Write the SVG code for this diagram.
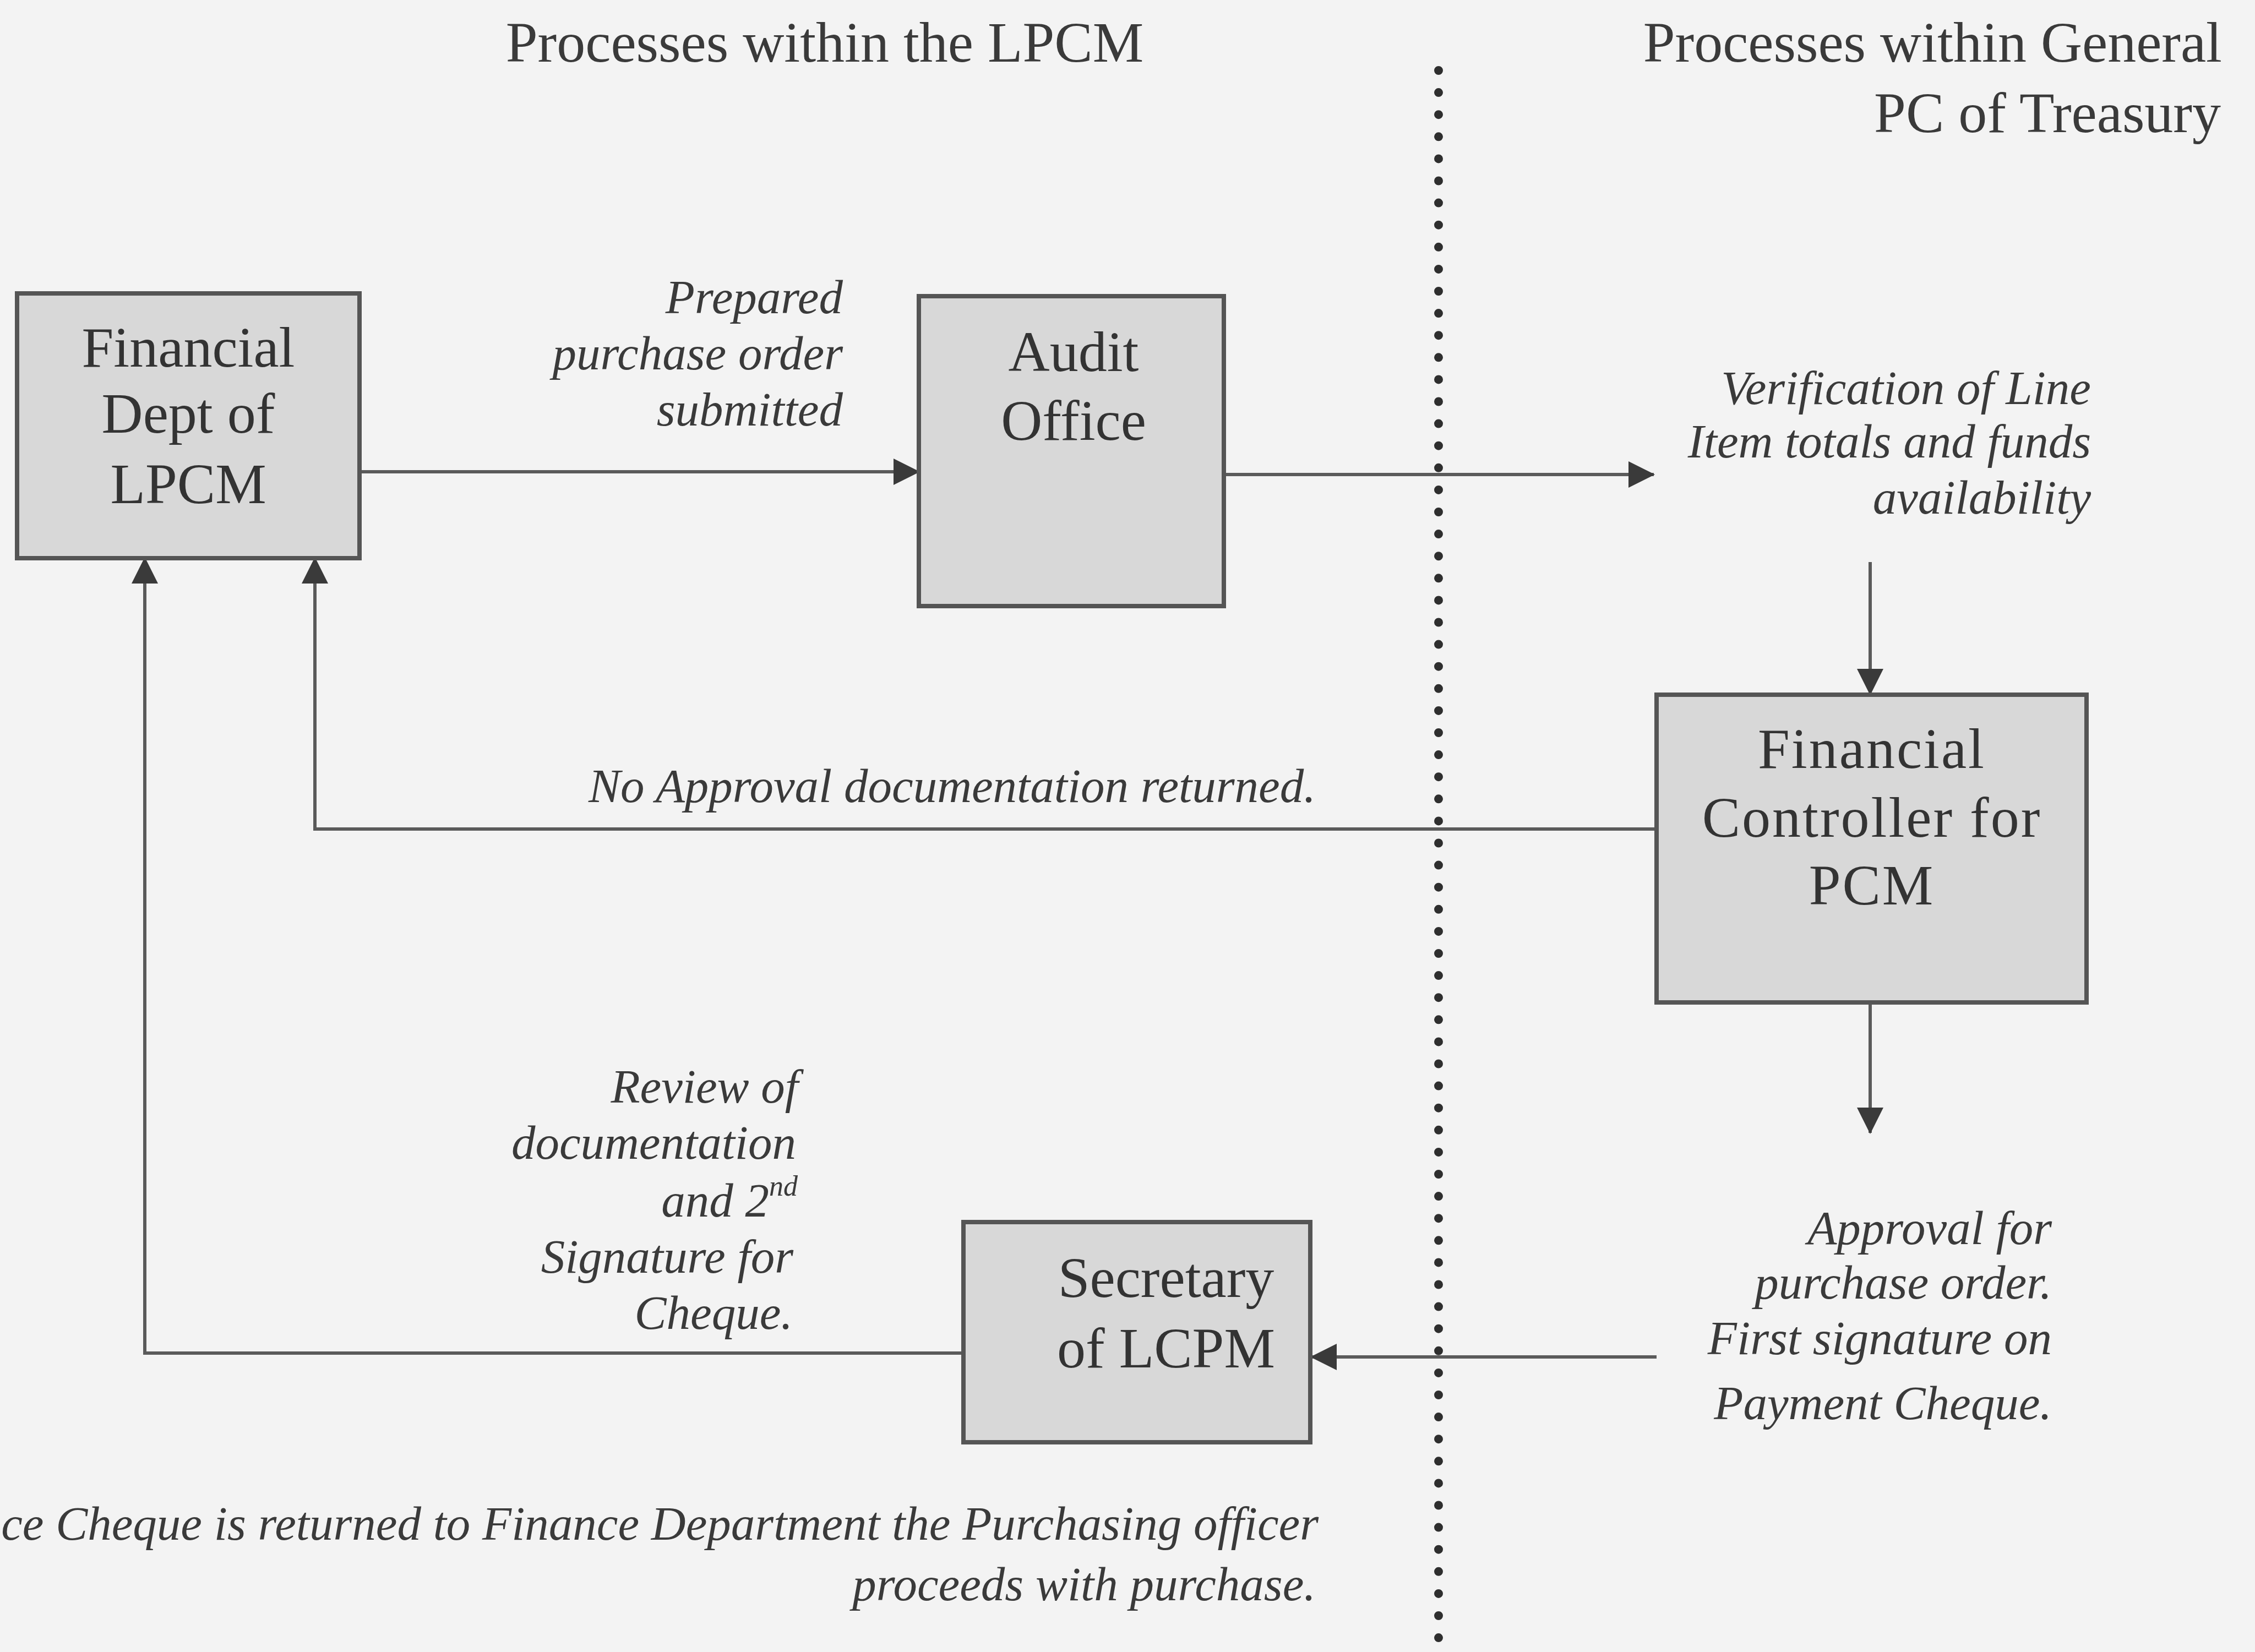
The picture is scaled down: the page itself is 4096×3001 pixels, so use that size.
<svg xmlns="http://www.w3.org/2000/svg" width="4096" height="3001" viewBox="0 0 4096 3001">
  <style>
    .node rect { fill: #d8d8d8; stroke: #555555; stroke-width: 8; }
    .node text { font-family: "Liberation Serif", "Times New Roman", serif; font-size: 104px; fill: #333333; text-anchor: middle; }
    .head { font-family: "Liberation Serif", "Times New Roman", serif; font-size: 104px; fill: #3a3a3a; }
    .lbl { font-family: "Liberation Serif", "Times New Roman", serif; font-style: italic; font-size: 87px; fill: #3a3a3a; text-anchor: end; }
    .edge { fill: none; stroke: #5a5a5a; stroke-width: 6; }
    .divider { stroke: #2e2e2e; stroke-width: 16; stroke-linecap: round; stroke-dasharray: 0 40.1; }
  </style>
  <defs>
    <marker id="arrow" markerUnits="userSpaceOnUse" markerWidth="48" markerHeight="48" viewBox="0 0 48 48" refX="46" refY="24" orient="auto">
      <path d="M0,0 L48,24 L0,48 Z" fill="#3a3a3a"/>
    </marker>
  </defs>

  <!-- page -->
  <rect x="0" y="0" width="4096" height="3001" fill="#f3f3f3"/>

  <!-- column headings -->
  <text class="head" x="1498" y="112" text-anchor="middle">Processes within the LPCM</text>
  <text class="head" x="4036" y="112" text-anchor="end">Processes within General</text>
  <text class="head" x="4034" y="240" text-anchor="end">PC of Treasury</text>

  <!-- boundary between the two organisations -->
  <line class="divider" x1="2613" y1="128" x2="2613" y2="3001"/>

  <!-- connectors -->
  <g id="connectors">
    <path class="edge" d="M653,857 H1669" marker-end="url(#arrow)"/>
    <path class="edge" d="M2223,862 H3004" marker-end="url(#arrow)"/>
    <path class="edge" d="M3397,1021 V1261" marker-end="url(#arrow)"/>
    <path class="edge" d="M3009,1506 H572 V1014" marker-end="url(#arrow)"/>
    <path class="edge" d="M3397,1821 V2058" marker-end="url(#arrow)"/>
    <path class="edge" d="M3009,2465 H2382" marker-end="url(#arrow)"/>
    <path class="edge" d="M1750,2458 H263 V1014" marker-end="url(#arrow)"/>
  </g>

  <!-- nodes -->
  <g id="financial-dept" class="node">
    <rect x="31" y="533" width="622" height="481"/>
    <text x="342" y="666">Financial</text>
    <text x="342" y="786">Dept of</text>
    <text x="342" y="914">LPCM</text>
  </g>
  <g id="audit-office" class="node">
    <rect x="1669" y="538" width="554" height="563"/>
    <text x="1950" y="674">Audit</text>
    <text x="1950" y="799">Office</text>
  </g>
  <g id="financial-controller" class="node">
    <rect x="3009" y="1262" width="781" height="559"/>
    <text x="3400" y="1395" letter-spacing="3">Financial</text>
    <text x="3400" y="1520" letter-spacing="3">Controller for</text>
    <text x="3400" y="1643" letter-spacing="3">PCM</text>
  </g>
  <g id="secretary" class="node">
    <rect x="1750" y="2220" width="630" height="400"/>
    <text x="2118" y="2356">Secretary</text>
    <text x="2118" y="2484">of LCPM</text>
  </g>

  <!-- connector labels -->
  <g id="labels">
    <text class="lbl" x="1531" y="569">Prepared</text>
    <text class="lbl" x="1531" y="671">purchase order</text>
    <text class="lbl" x="1531" y="773">submitted</text>

    <text class="lbl" x="3798" y="734">Verification of Line</text>
    <text class="lbl" x="3798" y="831">Item totals and funds</text>
    <text class="lbl" x="3798" y="933">availability</text>

    <text class="lbl" x="2390" y="1457">No Approval documentation returned.</text>

    <text class="lbl" x="3727" y="2260">Approval for</text>
    <text class="lbl" x="3727" y="2359">purchase order.</text>
    <text class="lbl" x="3727" y="2460">First signature on</text>
    <text class="lbl" x="3727" y="2578">Payment Cheque.</text>

    <text class="lbl" x="1450" y="2003">Review of</text>
    <text class="lbl" x="1446" y="2105">documentation</text>
    <text class="lbl" x="1449" y="2210">and 2<tspan font-size="52" dy="-38">nd</tspan></text>
    <text class="lbl" x="1441" y="2312">Signature for</text>
    <text class="lbl" x="1440" y="2414">Cheque.</text>

    <text class="lbl" x="2395" y="2797">ce Cheque is returned to Finance Department the Purchasing officer</text>
    <text class="lbl" x="2390" y="2907">proceeds with purchase.</text>
  </g>
</svg>
